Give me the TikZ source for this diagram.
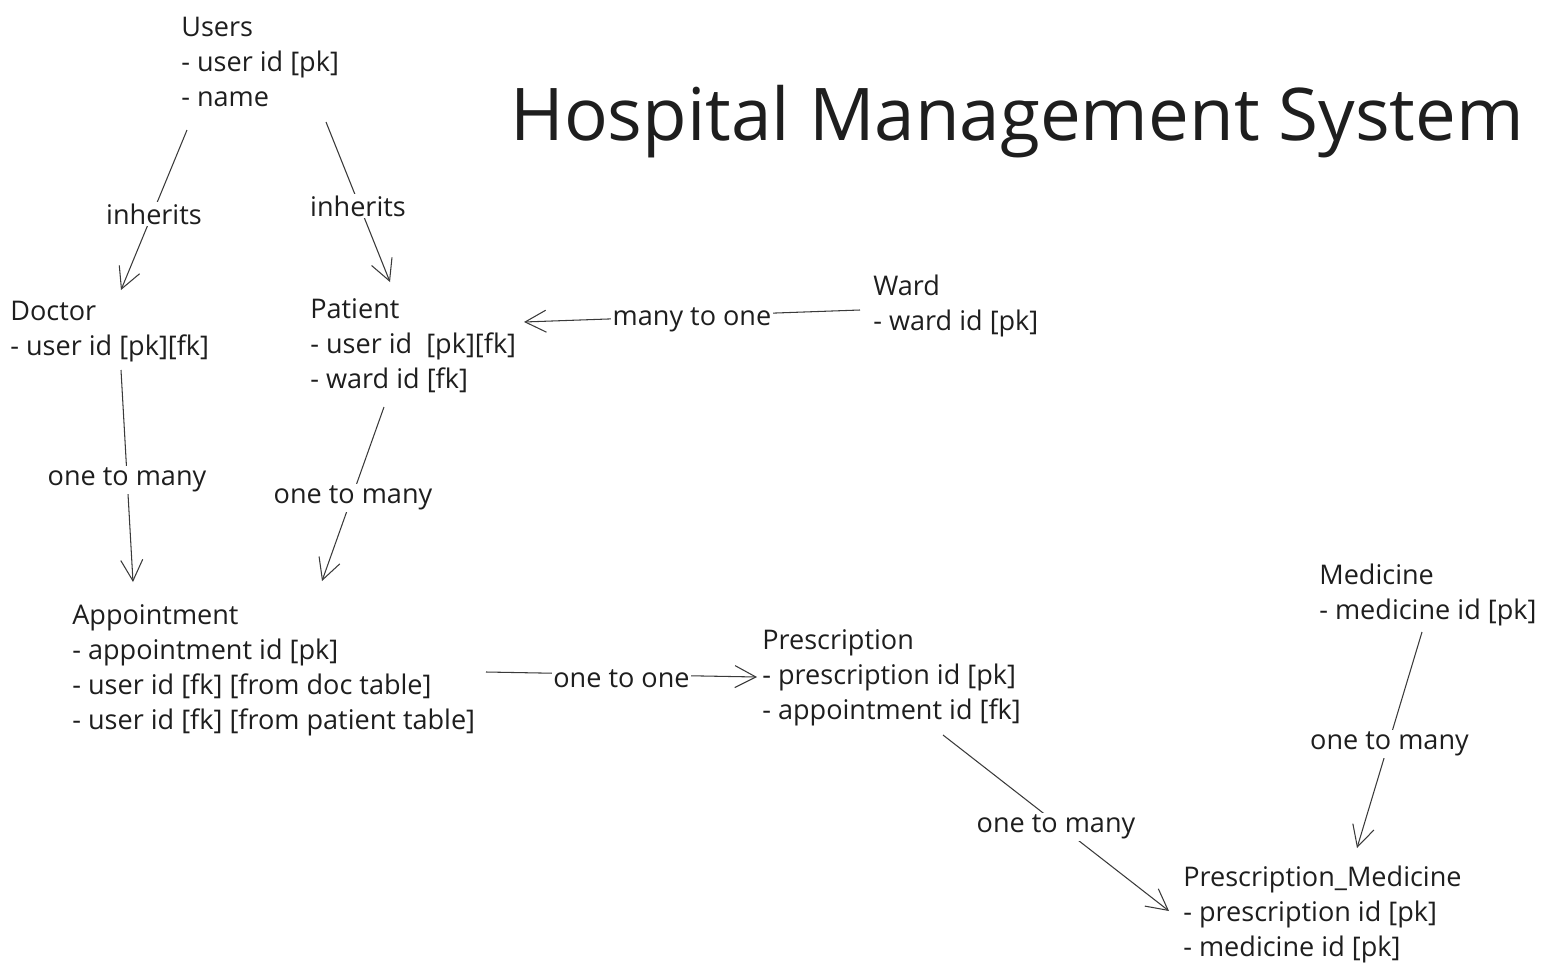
\documentclass[tikz,border=0pt]{standalone}
\usepackage{fontspec}
\setmainfont{Open Sans}
\usepackage{xcolor}
\usepackage{tikz}
\usetikzlibrary{arrows.meta, calc}
\definecolor{ink}{HTML}{1E1E1E}
\definecolor{stroke}{HTML}{3A3A3A}
\tikzset{
  entity/.style={
    anchor=base west, inner sep=0pt, align=left,
    text=ink, font=\fontsize{15.4}{19.9}\selectfont
  },
  title/.style={
    anchor=base west, inner sep=0pt,
    text=ink, font=\fontsize{41.4}{50}\selectfont
  },
  lbl/.style={
    fill=white, inner sep=1pt, text=ink, yshift=-0.08cm,
    font=\fontsize{15.4}{19.9}\selectfont
  },
  link/.style={draw=stroke, line width=0.6pt,
    -{Straight Barb[length=4.2mm, width=4.4mm, line width=0.6pt]}},
}

\begin{document}
\begin{tikzpicture}[x=0.02cm, y=-0.02cm]
  \useasboundingbox (0,0) rectangle (1546,974);

  % title
  \node[title] (ttl) at (510,140) {Hospital Management System};

  % tables (placed at the baseline of their last line)
  \node[entity] (users) at (181,106) {Users\\- user id [pk]\\- name};
  \node[entity] (doctor) at (10,355) {Doctor\\- user id [pk][fk]};
  \node[entity] (patient) at (310,388) {Patient\\- user id\ \ [pk][fk]\\- ward id [fk]};
  \node[entity] (ward) at (873,330) {Ward\\- ward id [pk]};
  \node[entity] (appt) at (72,729)
    {Appointment\\- appointment id [pk]\\- user id [fk] [from doc table]\\- user id [fk] [from patient table]};
  \node[entity] (presc) at (762,719)
    {Prescription\\- prescription id [pk]\\- appointment id [fk]};
  \node[entity] (med) at (1319,619) {Medicine\\- medicine id [pk]};
  \node[entity] (pm) at (1183,956)
    {Prescription\_Medicine\\- prescription id [pk]\\- medicine id [pk]};

  % relations
  \draw[link] ($(users.base west)+(6,24)$) -- node[lbl] {inherits}
    ($(doctor.base west)+(111,-65)$);
  \draw[link] ($(users.base west)+(145,16)$) -- node[lbl] {inherits}
    ($(patient.base west)+(80,-106)$);
  \draw[link] ($(ward.base west)+(-13,-20)$) -- node[lbl] {many to one}
    ($(patient.base west)+(214,-66)$);
  \draw[link] ($(doctor.base west)+(111,15)$) -- node[lbl] {one to many}
    ($(appt.base west)+(61,-147)$);
  \draw[link] ($(patient.base west)+(74,19)$) -- node[lbl] {one to many}
    ($(appt.base west)+(250,-148)$);
  \draw[link] ($(appt.base west)+(414,-57)$) -- node[lbl] {one to one}
    ($(presc.base west)+(-5,-42)$);
  \draw[link] ($(presc.base west)+(181,16)$) -- node[lbl] {one to many}
    ($(pm.base west)+(-14,-45)$);
  \draw[link] ($(med.base west)+(103,13)$) -- node[lbl] {one to many}
    ($(pm.base west)+(174,-108)$);
\end{tikzpicture}
\end{document}
